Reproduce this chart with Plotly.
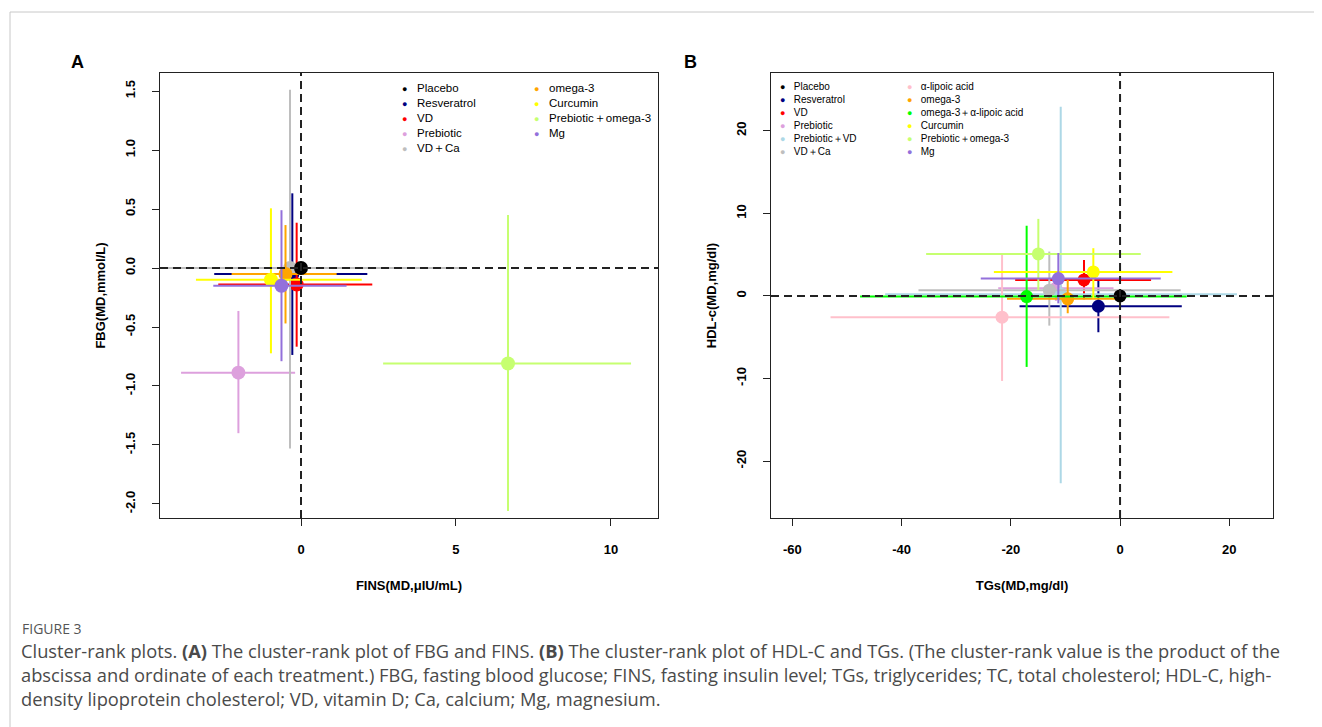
import plotly.graph_objects as go

# page body has an 8px margin: lay the figure out in screen pixels and shift
OFF = 8
W, H = 1322 - OFF, 727 - OFF


def px(p):
    return (p - OFF) / W


def py(p):
    return 1 - (p - OFF) / H


# ---------------- Panel A data: FBG vs FINS ----------------
names_a = ["Placebo", "Resveratrol", "VD", "Prebiotic", "VD＋Ca",
           "omega-3", "Curcumin", "Prebiotic＋omega-3", "Mg"]
fins_md = [0.0, -0.28, -0.14, -2.02, -0.355, -0.50, -0.97, 6.68, -0.63]
fins_lo = [0.0, -2.80, -2.67, -3.87, -5.95, -2.24, -3.39, 2.65, -2.83]
fins_hi = [0.0, 2.14, 2.30, -0.19, 5.24, 1.15, 1.96, 10.65, 1.47]
fbg_md = [0.0, -0.05, -0.14, -0.887, 0.0, -0.05, -0.10, -0.81, -0.15]
fbg_lo = [0.0, -0.737, -0.667, -1.40, -1.53, -0.47, -0.723, -2.06, -0.79]
fbg_hi = [0.0, 0.633, 0.384, -0.364, 1.51, 0.364, 0.506, 0.449, 0.49]

# ---------------- Panel B data: HDL-c vs TGs ----------------
names_b = ["Placebo", "Resveratrol", "VD", "Prebiotic", "Prebiotic＋VD", "VD＋Ca",
           "α-lipoic acid", "omega-3", "omega-3＋α-lipoic acid", "Curcumin",
           "Prebiotic＋omega-3", "Mg"]
tg_md = [0.0, -3.97, -6.6, -11.75, -10.86, -12.95, -21.6, -9.58, -17.1, -4.89, -14.96, -11.3]
tg_lo = [0.0, -18.4, -19.2, -22.3, -43.0, -36.9, -53.0, -20.7, -47.6, -23.1, -35.5, -25.5]
tg_hi = [0.0, 11.3, 5.68, -1.2, 21.4, 11.1, 9.03, -0.3, 12.2, 9.58, 3.79, 7.45]
hdl_md = [0.0, -1.25, 1.94, 0.93, 0.2, 0.7, -2.58, -0.35, -0.08, 2.9, 5.09, 2.1]
hdl_lo = [0.0, -4.4, -0.4, -0.6, -22.7, -3.6, -10.3, -2.1, -8.6, -0.28, 0.73, -0.9]
hdl_hi = [0.0, 1.94, 4.36, 2.4, 22.9, 5.37, 5.0, 1.94, 8.5, 5.78, 9.33, 5.2]

# tick labels
xa_ticks = [0, 5, 10]
xa_ticktext = ["0", "5", "10"]
ya_ticks = [-2.0, -1.5, -1.0, -0.5, 0.0, 0.5, 1.0, 1.5]
ya_ticktext = ["-2.0", "-1.5", "-1.0", "-0.5", "0.0", "0.5", "1.0", "1.5"]
xb_ticks = [-60, -40, -20, 0, 20]
xb_ticktext = ["-60", "-40", "-20", "0", "20"]
yb_ticks = [-20, -10, 0, 10, 20]
yb_ticktext = ["-20", "-10", "0", "10", "20"]

# ---------------- styles ----------------
COLORS = {
    "Placebo": "#000000",
    "Resveratrol": "#000080",
    "VD": "#FF0000",
    "Prebiotic": "#DDA0DD",
    "VD＋Ca": "#BEBEBE",
    "omega-3": "#FFA500",
    "Curcumin": "#FFFF00",
    "Prebiotic＋omega-3": "#C6FF70",
    "Mg": "#9370DB",
    "α-lipoic acid": "#FFC0CB",
    "omega-3＋α-lipoic acid": "#00FF00",
    "Prebiotic＋VD": "#ADD8E6",
}

fig = go.Figure()


def add_panel(names, xs, xlo, xhi, ys, ylo, yhi, xa, ya, msize):
    order = list(range(1, len(names))) + [0]
    for i in order:
        c = COLORS[names[i]]
        fig.add_trace(go.Scatter(
            x=[xs[i]], y=[ys[i]], mode="markers", xaxis=xa, yaxis=ya,
            name=names[i], showlegend=False, hoverinfo="name",
            marker=dict(color=c, size=msize, line=dict(width=0)),
            error_x=dict(type="data", symmetric=False,
                         array=[xhi[i] - xs[i]], arrayminus=[xs[i] - xlo[i]],
                         width=0, thickness=2, color=c),
            error_y=dict(type="data", symmetric=False,
                         array=[yhi[i] - ys[i]], arrayminus=[ys[i] - ylo[i]],
                         width=0, thickness=2, color=c),
        ))


add_panel(names_a, fins_md, fins_lo, fins_hi, fbg_md, fbg_lo, fbg_hi, "x", "y", 14)
add_panel(names_b, tg_md, tg_lo, tg_hi, hdl_md, hdl_lo, hdl_hi, "x2", "y2", 13)

FONT = "Liberation Sans, Arial, sans-serif"
tickfont = dict(family=FONT, size=13, color="#000", weight="bold")
titlefont = dict(family=FONT, size=13, color="#000", weight="bold")

axis_common = dict(showline=True, mirror=True, linecolor="#222", linewidth=1,
                   ticks="outside", ticklen=7, tickwidth=1, tickcolor="#222",
                   showgrid=False, zeroline=False, tickfont=tickfont,
                   tickmode="array", ticklabelstandoff=12)

ydom = [py(518), py(73)]

fig.update_layout(
    width=W, height=H, margin=dict(l=0, r=0, t=0, b=0),
    paper_bgcolor="white", plot_bgcolor="white", showlegend=False,
    xaxis=dict(domain=[px(160), px(658)], range=[-4.55, 11.52], anchor="y",
               tickvals=xa_ticks, ticktext=xa_ticktext,
               title=dict(text="FINS(MD,μIU/mL)", font=titlefont, standoff=25),
               **axis_common),
    yaxis=dict(domain=ydom, range=[-2.119, 1.653], anchor="x",
               tickvals=ya_ticks, ticktext=ya_ticktext, tickangle=-90,
               title=dict(text="FBG(MD,mmol/L)", font=titlefont, standoff=14),
               **axis_common),
    xaxis2=dict(domain=[px(771), px(1273)], range=[-63.9, 28.0], anchor="y2",
                tickvals=xb_ticks, ticktext=xb_ticktext,
                title=dict(text="TGs(MD,mg/dl)", font=titlefont, standoff=25),
                **axis_common),
    yaxis2=dict(domain=ydom, range=[-26.9, 27.0], anchor="x2",
                tickvals=yb_ticks, ticktext=yb_ticktext, tickangle=-90,
                title=dict(text="HDL-c(MD,mg/dl)", font=titlefont, standoff=14),
                **axis_common),
)

# dashed reference lines
for xr, yr in (("x", "y"), ("x2", "y2")):
    fig.add_shape(type="line", xref=xr, yref=yr + " domain", x0=0, x1=0, y0=0, y1=1,
                  line=dict(color="#222", width=2, dash="8px,5px"))
    fig.add_shape(type="line", xref=xr + " domain", yref=yr, x0=0, x1=1, y0=0, y1=0,
                  line=dict(color="#222", width=2, dash="8px,5px"))

# figure frame (top and left rules)
fig.add_shape(type="line", xref="paper", yref="paper", x0=px(10), x1=1.02,
              y0=py(12), y1=py(12), line=dict(color="#c8c8c8", width=1))
fig.add_shape(type="line", xref="paper", yref="paper", x0=px(10), x1=px(10),
              y0=-0.03, y1=py(12), line=dict(color="#c8c8c8", width=1))


def legend_col(items, x_px, top_px_, size, dot):
    lines = []
    for n in items:
        lines.append(f"<span style='color:{COLORS[n]};font-size:{dot}px'>●</span>   {n}")
    fig.add_annotation(text="<br>".join(lines), xref="paper", yref="paper",
                       x=px(x_px), y=py(top_px_), xanchor="left", yanchor="top",
                       align="left", showarrow=False,
                       font=dict(family=FONT, size=size, color="#000"))


legend_col(names_a[:5], 400, 80, 11.5, 9)
legend_col(names_a[5:], 532, 80, 11.5, 9)
legend_col(names_b[:6], 778, 79, 10, 9)
legend_col(names_b[6:], 905, 79, 10, 9)

# panel letters
for letter, xpos in (("A", 77), ("B", 690)):
    fig.add_annotation(text=f"<b>{letter}</b>", xref="paper", yref="paper",
                       x=px(xpos), y=py(62), xanchor="center", yanchor="middle",
                       showarrow=False, font=dict(family=FONT, size=18, color="#000"))

# caption
CAP_FONT = "Open Sans, Noto Sans, sans-serif"
fig.add_annotation(text="FIGURE 3", xref="paper", yref="paper", x=px(20), y=py(628),
                   xanchor="left", yanchor="middle", showarrow=False,
                   font=dict(family=CAP_FONT, size=14, color="#555"))
caption = ("Cluster-rank plots. <b>(A)</b> The cluster-rank plot of FBG and FINS. <b>(B)</b> The cluster-rank plot "
           "of HDL-C and TGs. (The cluster-rank value is the product of the<br>"
           "abscissa and ordinate of each treatment.) FBG, fasting blood glucose; FINS, fasting insulin level; "
           "TGs, triglycerides; TC, total cholesterol; HDL-C, high-<br>"
           "density lipoprotein cholesterol; VD, vitamin D; Ca, calcium; Mg, magnesium.")
fig.add_annotation(text=caption, xref="paper", yref="paper", x=px(19), y=py(636),
                   xanchor="left", yanchor="top", align="left", showarrow=False,
                   font=dict(family=CAP_FONT, size=18.3, color="#4a4a4a"))

fig.write_html("out.html")
